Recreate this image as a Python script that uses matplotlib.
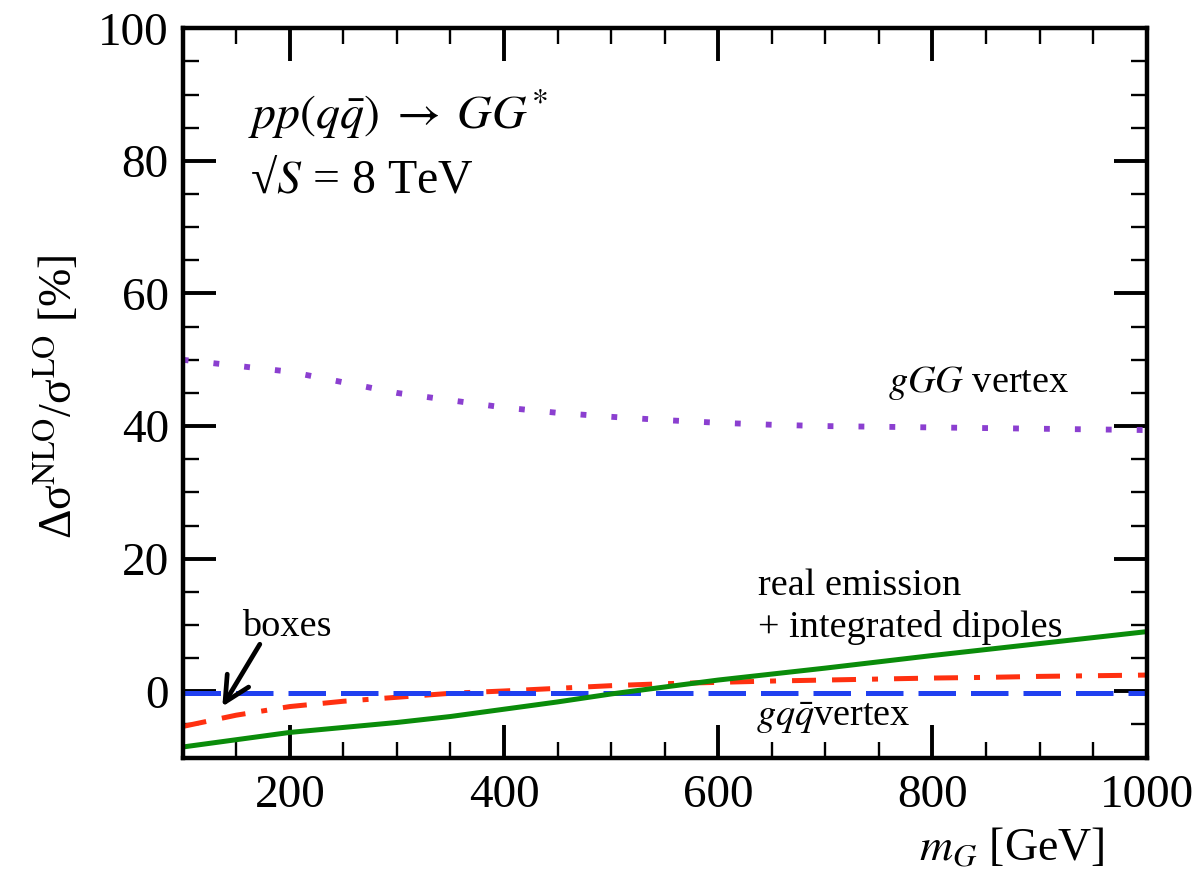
import numpy as np
import matplotlib.pyplot as plt
from matplotlib.ticker import MultipleLocator

plt.rcParams['font.family'] = ['Liberation Serif', 'DejaVu Serif']
plt.rcParams['mathtext.fontset'] = 'stix'

# masses (GeV)
m_G = [100, 150, 200, 250, 300, 350, 400, 450, 500, 550, 600, 650, 700, 750, 800, 850, 900, 950, 1000]

# relative corrections in %
gGG_vertex = [50.0, 49.1, 48.2, 46.6, 45.0, 43.9, 42.8, 42.0, 41.4, 40.9, 40.5, 40.2, 40.0, 39.9, 39.8, 39.7, 39.6, 39.5, 39.4]
gqq_vertex = [-0.2] * 19
boxes = [-5.3, -3.6, -2.3, -1.5, -0.9, -0.3, 0.05, 0.45, 0.85, 1.15, 1.35, 1.55, 1.7, 1.85, 2.0, 2.1, 2.25, 2.35, 2.45]
real_emission = [-8.4, -7.3, -6.2, -5.45, -4.7, -3.8, -2.7, -1.6, -0.4, 0.65, 1.7, 2.6, 3.5, 4.45, 5.4, 6.3, 7.2, 8.1, 9.0]

fig = plt.figure(figsize=(12.02, 8.83), dpi=100)
ax = fig.add_axes([0.152, 0.142, 0.802, 0.826])

ax.plot(m_G, gGG_vertex, color='#8B3FD0', lw=4.2, linestyle=(0, (1, 4.3)))
ax.plot(m_G, boxes, color='#FF3010', lw=3.6, linestyle=(0, (4.8, 3.2, 4.8, 3.2, 1.2, 3.2)))
ax.plot(m_G, gqq_vertex, color='#2040F0', lw=3.6, linestyle=(0, (7.5, 3)))
ax.plot(m_G, real_emission, color='#0A8C0A', lw=3.6)

ax.set_xlim(100, 1000)
ax.set_ylim(-10, 100)

ax.xaxis.set_major_locator(MultipleLocator(200))
ax.xaxis.set_minor_locator(MultipleLocator(50))
ax.yaxis.set_major_locator(MultipleLocator(20))
ax.yaxis.set_minor_locator(MultipleLocator(5))

for s in ax.spines.values():
    s.set_linewidth(3.2)

ax.tick_params(which='both', direction='in', top=True, right=True, labelsize=34)
ax.tick_params(which='major', length=23.5, width=2.8)
ax.tick_params(which='minor', length=11.5, width=1.7)
ax.tick_params(axis='x', which='major', pad=12)
ax.tick_params(axis='y', which='major', pad=10)

ax.set_xlabel(r'$m_G$ [GeV]', fontsize=33)
ax.xaxis.set_label_coords(0.86, -0.095)
ax.set_ylabel('Δσ$^{\\rm NLO}$/σ$^{\\rm LO}$ [%]', fontsize=33)
ax.yaxis.set_label_coords(-0.105, 0.495)

# annotations
ax.text(161, 87, r'$pp(q\bar{q})\;\rightarrow\;GG^{*}$', fontsize=34.5, va='center')
ax.text(163, 77, '√' + r'$S$ = 8 TeV', fontsize=34.5, va='center')
ax.text(928, 46.5, r'$gGG$ vertex', fontsize=27.5, va='center', ha='right')
ax.text(637, 15.9, 'real emission', fontsize=27.5, va='center')
ax.text(637, 9.6, '+ integrated dipoles', fontsize=27.5, va='center')
ax.text(635, -4.1, r'$gq\bar{q}$vertex', fontsize=27.5, va='center')
ax.text(155, 9.8, 'boxes', fontsize=27.5, va='center')
ax.annotate('', xy=(137, -2.3), xytext=(172, 7.1),
            arrowprops=dict(arrowstyle='->,head_length=0.6,head_width=0.3', lw=3.4,
                            color='black', mutation_scale=30, shrinkA=0, shrinkB=0))

fig.savefig('out.png', dpi=100)
